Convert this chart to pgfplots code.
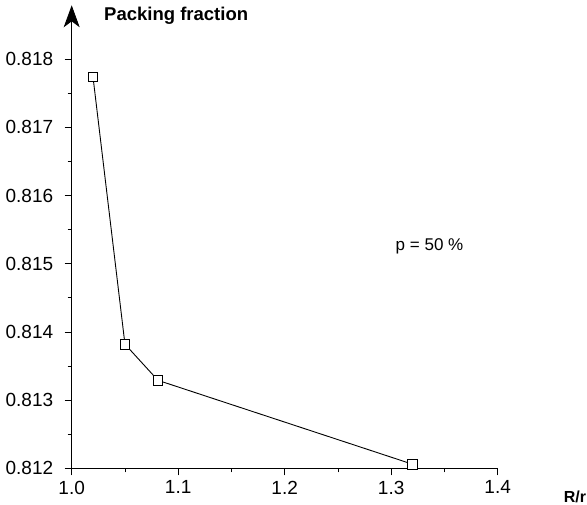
\documentclass[border=0pt]{standalone}
\usepackage{fontspec}
\setmainfont{Liberation Sans}
\usepackage{pgfplots}
\pgfplotsset{compat=1.18}
\usetikzlibrary{arrows.meta}

\begin{document}
\begin{tikzpicture}
\begin{axis}[
scale only axis,
width=426pt,
height=463pt,
xmin=1.0,xmax=1.4,
ymin=0.812,ymax=0.81879,
axis lines*=left,
y axis line style={-{Stealth[length=22pt,width=16pt,inset=6pt]}},
axis line style={line width=0.8pt},
xtick={1.0,1.1,1.2,1.3,1.4},
minor xtick={1.05,1.15,1.25,1.35},
ytick={0.812,0.813,0.814,0.815,0.816,0.817,0.818},
minor ytick={0.8125,0.8135,0.8145,0.8155,0.8165,0.8175},
tick align=outside,
major tick length=7pt,
minor tick length=4pt,
tick style={line width=0.7pt,black},
xticklabel style={/pgf/number format/.cd,fixed,fixed zerofill,precision=1,assume math mode=true},
yticklabel style={/pgf/number format/.cd,fixed,fixed zerofill,precision=3,assume math mode=true},
ticklabel style={font=\fontsize{19}{22}\selectfont},
scaled y ticks=false,
xticklabel shift=2pt,
yticklabel shift=8pt,
clip=false,
]
\addplot[black,line width=0.9pt,mark=square*,mark size=4.8pt,
  mark options={fill=white,line width=0.8pt}] coordinates {
(1.02,0.81774)(1.05,0.81382)(1.081,0.81329)(1.32,0.81206)};
\node[anchor=west,font=\bfseries\fontsize{18.5}{22}\selectfont]
  at (rel axis cs:0,1) [xshift=29pt,yshift=-10pt] {Packing fraction};
\node[font=\fontsize{17}{20}\selectfont] at (axis cs:1.336,0.81525) {p = 50 \%};
\node[anchor=west,font=\bfseries\fontsize{16}{19}\selectfont,inner sep=0pt]
  at (rel axis cs:1,0) [xshift=66pt,yshift=-29pt] {R/r};
\coordinate (O) at (rel axis cs:0,0);
\end{axis}
\path (O) ++(-71.7pt,-36.7pt) rectangle ++(587pt,505pt);
\end{tikzpicture}
\end{document}
